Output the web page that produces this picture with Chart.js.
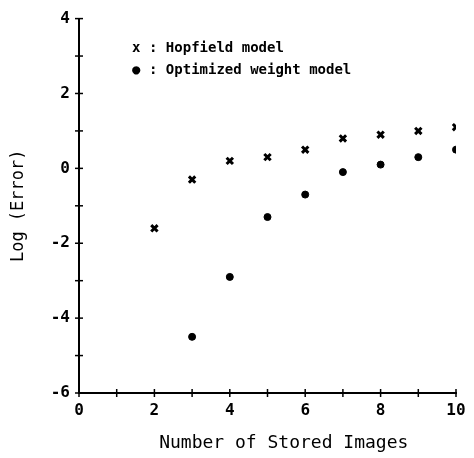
<!DOCTYPE html>
<html>
<head>
<meta charset="utf-8">
<script src="https://cdn.jsdelivr.net/npm/chart.js@4/dist/chart.umd.min.js"></script>
<style>
  html, body { margin: 0; padding: 0; background: #fff; }
  #wrap { width: 474px; height: 458px; }
</style>
</head>
<body>
<div id="wrap"><canvas id="chart"></canvas></div>
<script>
// data
const storedImages = [2, 3, 4, 5, 6, 7, 8, 9, 10];
const hopfieldError = [-1.6, -0.3, 0.2, 0.3, 0.5, 0.8, 0.9, 1.0, 1.1];
const optimizedImages = [3, 4, 5, 6, 7, 8, 9, 10];
const optimizedError = [-4.5, -2.9, -1.3, -0.7, -0.1, 0.1, 0.3, 0.5];
const seriesNames = ['Hopfield model', 'Optimized weight model'];
const seriesMarks = ['x', '\u25CF'];

const FONT = "'DejaVu Sans Mono', monospace";

// axis ticks that cross the axis line (every integer)
const crossTicks = {
    id: 'crossTicks',
    afterDraw(chart) {
        const ctx = chart.ctx;
        const xs = chart.scales.x, ys = chart.scales.y;
        ctx.save();
        ctx.strokeStyle = '#000';
        ctx.lineWidth = 1.5;
        for (let v = ys.min; v <= ys.max; v++) {
            const p = ys.getPixelForValue(v);
            ctx.beginPath();
            ctx.moveTo(xs.left - 4, p);
            ctx.lineTo(xs.left + 4, p);
            ctx.stroke();
        }
        for (let v = xs.min; v <= xs.max; v++) {
            const p = xs.getPixelForValue(v);
            ctx.beginPath();
            ctx.moveTo(p, ys.bottom - 4);
            ctx.lineTo(p, ys.bottom + 4);
            ctx.stroke();
        }
        ctx.restore();
    }
};

// legend as text inside the plot
const textLegend = {
    id: 'textLegend',
    afterDraw(chart) {
        const ctx = chart.ctx;
        const area = chart.chartArea;
        ctx.save();
        ctx.fillStyle = '#000';
        ctx.font = "bold 14px " + FONT;
        ctx.textBaseline = 'middle';
        seriesNames.forEach(function(name, i) {
            const y = area.top + 30 + i * 22;
            ctx.fillText(seriesMarks[i], area.left + 53, y);
            ctx.fillText(': ' + name, area.left + 70, y);
        });
        ctx.restore();
    }
};

const ctx = document.getElementById('chart').getContext('2d');
const chart = new Chart(ctx, {
    type: 'scatter',
    data: {
        datasets: [{
            label: seriesNames[0],
            data: storedImages.map((x, i) => ({x: x, y: hopfieldError[i]})),
            pointStyle: 'crossRot',
            pointRadius: 4.5,
            pointBorderWidth: 3,
            borderColor: '#000',
            backgroundColor: '#000'
        }, {
            label: seriesNames[1],
            data: optimizedImages.map((x, i) => ({x: x, y: optimizedError[i]})),
            pointStyle: 'circle',
            pointRadius: 3.5,
            pointBorderWidth: 1,
            borderColor: '#000',
            backgroundColor: '#000'
        }]
    },
    options: {
        responsive: true,
        maintainAspectRatio: false,
        animation: false,
        layout: { padding: { top: 15, right: 18, bottom: 0, left: 0 } },
        plugins: {
            legend: { display: false },
            tooltip: { enabled: false }
        },
        scales: {
            x: {
                type: 'linear',
                min: 0,
                max: 10,
                afterFit: function(s) { s.height = 65; },
                border: { display: true, color: '#000', width: 2 },
                grid: { display: true, drawOnChartArea: false, drawTicks: false },
                ticks: { stepSize: 2, color: '#000', padding: 8, font: { family: FONT, size: 16, weight: 'bold' } },
                title: {
                    display: true,
                    text: '   Number of Stored Images',
                    color: '#000',
                    padding: { top: 6 },
                    font: { family: FONT, size: 18 }
                }
            },
            y: {
                type: 'linear',
                min: -6,
                max: 4,
                afterFit: function(s) { s.width = 79; },
                border: { display: true, color: '#000', width: 2 },
                grid: { display: true, drawOnChartArea: false, drawTicks: false },
                ticks: { stepSize: 2, color: '#000', padding: 9, font: { family: FONT, size: 16, weight: 'bold' } },
                title: {
                    display: true,
                    text: 'Log (Error)',
                    color: '#000',
                    padding: { top: 8, bottom: 0 },
                    font: { family: FONT, size: 17 }
                }
            }
        }
    },
    plugins: [crossTicks, textLegend]
});
</script>
</body>
</html>
